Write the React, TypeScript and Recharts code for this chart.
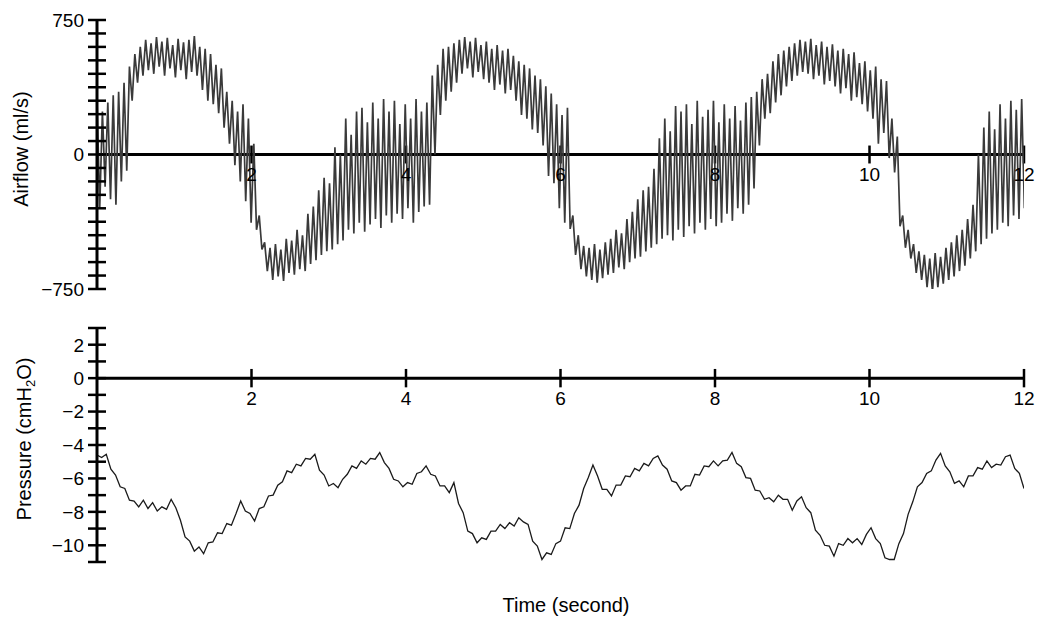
import React from 'react';
import { LineChart, Line, XAxis, YAxis, ReferenceLine, ReferenceDot } from 'recharts';

const FONT = '"Liberation Sans", Arial, Helvetica, sans-serif';

// airflow: one peak + one trough per oscillation cycle, cycle length in seconds
const CYCLE = 0.07;
// pressure samples every 0.06 s
const PRESSURE_STEP = 0.06;

const timeTicks = [2, 4, 6, 8, 10, 12];

const airflowTicks = [
  -750, -675, -600, -525, -450, -375, -300, -225, -150, -75, 0,
  75, 150, 225, 300, 375, 450, 525, 600, 675, 750,
];
const airflowLabels = [-750, 0, 750];

const pressureTicks = [-11, -10, -9, -8, -7, -6, -5, -4, -3, -2, -1, 0, 1, 2, 3];
const pressureLabels = [-10, -8, -6, -4, -2, 0, 2];

const airflowPeaks = [
  310, 240, 290, 330, 350, 400, 490, 560, 600, 640,
  620, 655, 630, 650, 610, 645, 625, 640, 660, 600,
  590, 560, 500, 480, 350, 300, 240, 280, 200, 60,
  -340, -490, -520, -500, -530, -470, -480, -420, -450, -330,
  -290, -200, -130, -160, 40, 0, 200, 110, 240, 260,
  180, 290, 200, 310, 240, 300, 170, 280, 200, 310,
  240, 290, 440, 500, 590, 600, 620, 640, 655, 630,
  650, 610, 630, 590, 610, 580, 590, 550, 520, 500,
  480, 440, 420, 380, 340, 280, 220, 260, -340, -450,
  -510, -520, -500, -530, -490, -470, -420, -440, -360, -320,
  -250, -200, -180, -80, 90, 200, 130, 270, 240, 280,
  170, 300, 210, 250, 300, 180, 280, 200, 270, 190,
  290, 320, 350, 420, 450, 520, 560, 580, 600, 620,
  640, 630, 645, 610, 630, 600, 615, 580, 590, 560,
  570, 510, 520, 470, 490, 420, 410, 200, 100, -340,
  -420, -500, -540, -560, -580, -550, -570, -520, -490, -450,
  -420, -360, -280, 0, 150, 240, 140, 280, 200, 300,
  250, 310,
];

const airflowTroughs = [
  -300, -180, -250, -280, -150, -90, 300, 400, 440, 470,
  450, 490, 440, 480, 430, 470, 420, 460, 440, 360,
  300, 280, 230, 150, 60, -60, -150, -260, -380, -420,
  -530, -650, -700, -680, -705, -660, -670, -640, -650, -610,
  -590, -560, -540, -530, -500, -480, -420, -440, -380, -430,
  -390, -360, -410, -340, -380, -330, -360, -300, -380, -320,
  -290, -280, 0, 220, 300, 350, 400, 450, 480, 430,
  460, 420, 400, 360, 390, 340, 360, 300, 220, 200,
  140, 120, 50, -120, -160, -300, -380, -415, -560, -640,
  -680, -700, -715, -690, -670, -660, -630, -640, -600, -580,
  -570, -540, -520, -500, -470, -450, -480, -420, -460, -400,
  -440, -380, -420, -360, -400, -380, -330, -370, -300, -330,
  -280, -190, 50, 200, 230, 290, 330, 380, 410, 440,
  460, 450, 420, 440, 390, 410, 380, 340, 370, 300,
  320, 280, 240, 200, 60, 120, -20, -100, -400, -520,
  -580, -660, -700, -740, -765, -740, -720, -700, -680, -650,
  -620, -580, -540, -500, -470, -440, -420, -380, -400, -340,
  -360, -300,
];

const pressureValues = [
  -4.6, -4.75, -4.55, -5.45, -5.8, -6.5, -6.6, -7.3, -7.35, -7.7,
  -7.3, -7.8, -7.45, -7.95, -7.7, -7.85, -7.25, -7.75, -8.5, -9.5,
  -9.75, -10.35, -10.1, -10.5, -9.85, -9.8, -9.25, -9.3, -8.7, -8.8,
  -8.1, -7.35, -7.95, -8.1, -8.55, -7.8, -7.7, -7.05, -7.0, -6.4,
  -6.2, -5.55, -5.65, -5.15, -5.25, -4.8, -4.85, -4.55, -5.5, -5.8,
  -6.45, -6.3, -6.55, -6.05, -5.75, -5.25, -5.4, -4.95, -5.15, -4.8,
  -4.85, -4.45, -5.05, -5.4, -6.05, -6.15, -6.5, -6.25, -6.35, -5.7,
  -5.6, -5.25, -5.75, -5.85, -6.45, -6.45, -6.85, -6.25, -7.5, -8.05,
  -9.15, -9.3, -9.85, -9.55, -9.65, -9.15, -9.15, -8.75, -9.0, -8.65,
  -8.85, -8.35, -8.6, -8.75, -9.75, -10.05, -10.85, -10.45, -10.55, -9.9,
  -9.75, -8.95, -9.0, -8.1, -7.6, -6.6, -5.95, -5.2, -5.85, -6.65,
  -6.65, -7.05, -6.4, -6.4, -5.85, -5.9, -5.4, -5.55, -5.1, -5.25,
  -4.8, -4.65, -5.2, -5.45, -6.15, -6.25, -6.7, -6.45, -6.45, -5.75,
  -5.8, -5.25, -5.3, -4.95, -5.25, -4.95, -4.9, -4.45, -5.1, -5.3,
  -5.95, -6.0, -6.7, -6.75, -7.25, -7.15, -7.4, -7.0, -7.25, -7.25,
  -7.9, -7.35, -7.1, -7.75, -8.05, -9.1, -9.4, -10.0, -10.05, -10.65,
  -9.9, -10.0, -9.6, -9.85, -9.6, -9.95, -9.35, -8.95, -9.6, -9.9,
  -10.75, -10.85, -10.85, -9.9, -9.3, -8.15, -7.4, -6.5, -6.25, -5.7,
  -5.55, -4.9, -4.5, -5.25, -5.6, -6.3, -6.15, -6.5, -5.85, -5.85,
  -5.35, -5.45, -4.95, -5.35, -5.15, -5.2, -4.7, -4.6, -5.4, -5.7,
  -6.6,
];

const airflowData = airflowPeaks.flatMap((p, i) => [
  { t: i * CYCLE, v: p },
  { t: i * CYCLE + CYCLE / 2, v: airflowTroughs[i] },
]);

const pressureData = pressureValues.map((v, i) => ({ t: i * PRESSURE_STEP, v }));

const fmt = (v: number) => (v < 0 ? `\u2212${Math.abs(v)}` : `${v}`);

const YTick = ({ x, y, payload, labels }: any) => (
  <g>
    <line x1={x - 9} x2={x + 9} y1={y} y2={y} stroke="#000" strokeWidth={2.5} />
    {labels.includes(payload.value) && (
      <text
        x={x - 13}
        y={y}
        dy="0.36em"
        textAnchor="end"
        fontSize={19}
        fontFamily={FONT}
        fill="#000"
      >
        {fmt(payload.value)}
      </text>
    )}
  </g>
);

const timeAxis = (tickHalf: number) => [
  <ReferenceLine key="zero" y={0} stroke="#000" strokeWidth={3} />,
  ...timeTicks.map((t) => (
    <ReferenceLine
      key={`tk${t}`}
      segment={[{ x: t, y: -tickHalf }, { x: t, y: tickHalf }]}
      stroke="#000"
      strokeWidth={2.5}
    />
  )),
  ...timeTicks.map((t) => (
    <ReferenceDot
      key={`lb${t}`}
      x={t}
      y={0}
      r={0}
      fill="none"
      stroke="none"
      label={{ value: String(t), position: 'bottom', offset: 13, fontSize: 19, fill: '#000', fontFamily: FONT }}
    />
  )),
];

const titleStyle: React.CSSProperties = {
  position: 'absolute',
  fontFamily: FONT,
  fontSize: 20,
  color: '#000',
  whiteSpace: 'nowrap',
  lineHeight: 1,
};

export default function App() {
  return (
    <div style={{ position: 'absolute', left: 0, top: 0, width: 1043, height: 623, background: '#fff' }}>
      <div style={{ position: 'absolute', left: 0, top: 0 }}>
        <LineChart width={1043} height={300} data={airflowData} margin={{ top: 20, right: 19, bottom: 11, left: 0 }}>
          <XAxis type="number" dataKey="t" domain={[0, 12]} hide allowDataOverflow />
          <YAxis
            type="number"
            width={97}
            domain={[-750, 750]}
            ticks={airflowTicks}
            interval={0}
            allowDataOverflow
            tickSize={0}
            tickMargin={0}
            tickLine={false}
            axisLine={{ stroke: '#000', strokeWidth: 3 }}
            tick={(props: any) => <YTick {...props} labels={airflowLabels} />}
          />
          {timeAxis(50)}
          <Line
            type="linear"
            dataKey="v"
            stroke="#3a3a3a"
            strokeWidth={1.7}
            dot={false}
            isAnimationActive={false}
          />
        </LineChart>
      </div>
      <div style={{ position: 'absolute', left: 0, top: 300 }}>
        <LineChart width={1043} height={323} data={pressureData} margin={{ top: 28, right: 19, bottom: 61, left: 0 }}>
          <XAxis type="number" dataKey="t" domain={[0, 12]} hide allowDataOverflow />
          <YAxis
            type="number"
            width={97}
            domain={[-11, 3]}
            ticks={pressureTicks}
            interval={0}
            allowDataOverflow
            tickSize={0}
            tickMargin={0}
            tickLine={false}
            axisLine={{ stroke: '#000', strokeWidth: 3 }}
            tick={(props: any) => <YTick {...props} labels={pressureLabels} />}
          />
          {timeAxis(0.55)}
          <Line
            type="linear"
            dataKey="v"
            stroke="#1a1a1a"
            strokeWidth={1.3}
            dot={false}
            isAnimationActive={false}
          />
        </LineChart>
      </div>
      <div style={{ ...titleStyle, left: 21, top: 149, transform: 'translate(-50%, -50%) rotate(-90deg)' }}>
        Airflow (ml/s)
      </div>
      <div style={{ ...titleStyle, left: 24, top: 439, transform: 'translate(-50%, -50%) rotate(-90deg)' }}>
        Pressure (cmH<sub style={{ fontSize: 13, verticalAlign: 'baseline', position: 'relative', top: 4 }}>2</sub>O)
      </div>
      <div style={{ ...titleStyle, left: 566, top: 605, transform: 'translate(-50%, -50%)' }}>
        Time (second)
      </div>
    </div>
  );
}
